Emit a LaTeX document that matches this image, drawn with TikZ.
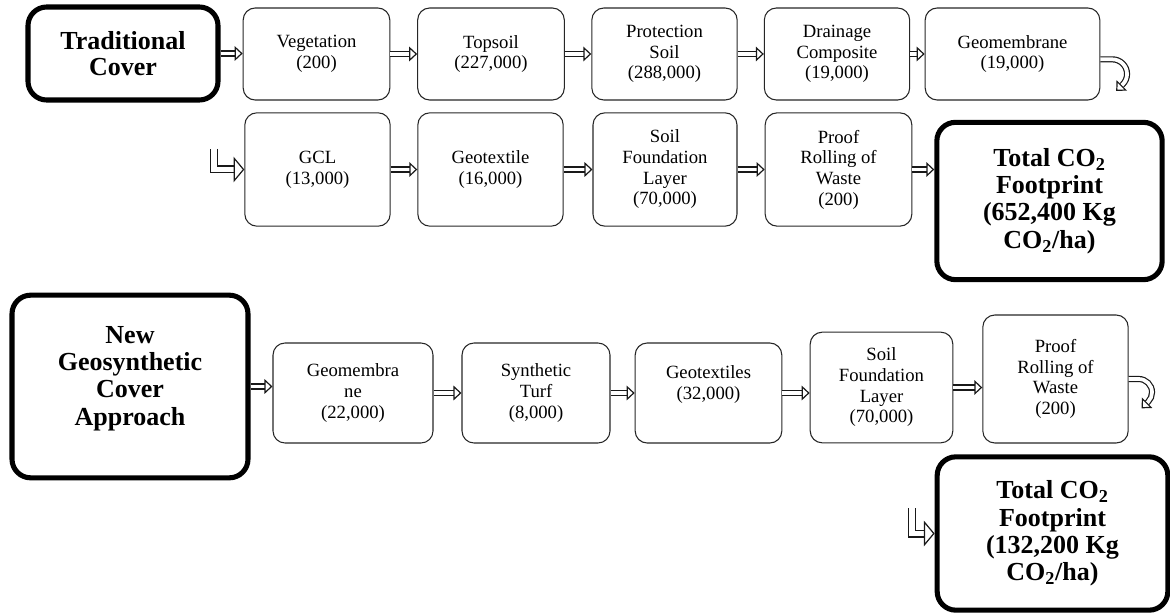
\documentclass[tikz,border=0pt]{standalone}
\usepackage{fontspec}
\setmainfont{Liberation Serif}
\usetikzlibrary{arrows.meta}

\tikzset{
  layer/.style={draw=black!85, line width=0.8pt, rounded corners=9pt, align=center,
    inner sep=1pt, font=\fontsize{14}{15.5}\selectfont},
  total/.style={draw, line width=3.8pt, rounded corners=14pt, align=center,
    inner sep=1pt, font=\fontsize{19.5}{20.5}\selectfont\bfseries},
  flow/.style={draw=black!90, double, double distance=2.8pt, line width=0.9pt,
    -{Triangle[open, length=6pt, width=11pt]}},
  elbow/.style={draw=black!90, double, double distance=4.2pt, line width=0.9pt,
    -{Triangle[open, length=8pt, width=19pt]}}
}

\begin{document}
\begin{tikzpicture}[x=0.75pt,y=0.75pt]
\useasboundingbox (0,0) rectangle (1170,-613);

% traditional cover
\node (trad)  at (123,-53.5)   [total, minimum width=142.5pt, minimum height=69.75pt, font=\fontsize{19.5}{19.5}\selectfont\bfseries] {Traditional\\Cover};
\node (veg)   at (316.5,-54)   [layer, minimum width=110pt, minimum height=69pt] {Vegetation\\(200)};
\node (top)   at (491,-54)     [layer, minimum width=110pt, minimum height=69pt] {Topsoil\\(227,000)};
\node (prot)  at (664.5,-54)   [layer, minimum width=109pt, minimum height=69pt] {Protection\\Soil\\(288,000)};
\node (drain) at (837,-54)     [layer, minimum width=109pt, minimum height=69pt] {Drainage\\Composite\\(19,000)};
\node (geo1)  at (1012.5,-54)  [layer, minimum width=131pt, minimum height=69pt] {Geomembrane\\(19,000)};
\node (gcl)   at (317.5,-169.5) [layer, minimum width=109pt, minimum height=85pt] {GCL\\(13,000)};
\node (gtx)   at (490.5,-169.5) [layer, minimum width=109pt, minimum height=85pt] {Geotextile\\(16,000)};
\node (sfl)   at (665,-169.5)   [layer, minimum width=108pt, minimum height=85pt] {Soil\\Foundation\\Layer\\(70,000)};
\node (prf)   at (838.5,-169.5) [layer, minimum width=110pt, minimum height=85pt] {Proof\\Rolling of\\Waste\\(200)};
\node (tot1)  at (1049.5,-201) [total, minimum width=169pt, minimum height=118pt] {Total CO\textsubscript{2}\\Footprint\\(652,400 Kg\\CO\textsubscript{2}/ha)};
\coordinate (lgcl) at (214,-149);

\draw[flow] (trad.east) -- (trad.east -| veg.west);
\draw[flow] (veg) -- (top);
\draw[flow] (top) -- (prot);
\draw[flow] (prot) -- (drain);
\draw[flow] (drain) -- (geo1);
\draw[flow] ([yshift=-4pt]geo1.east) -- ++(12,0) arc[start angle=90, end angle=-45, radius=11pt] -- ++(-135:7pt);
\draw[elbow] (lgcl) |- (gcl.west);
\draw[flow] (gcl) -- (gtx);
\draw[flow] (gtx) -- (sfl);
\draw[flow] (sfl) -- (prf);
\draw[flow] (prf.east) -- (prf.east -| tot1.west);

% geosynthetic cover
\node (new)   at (130,-386.5)   [total, minimum width=177pt, minimum height=137pt] {New\\Geosynthetic\\Cover\\Approach\\[-4pt]\mbox{}};
\node (geo2)  at (353,-393)     [layer, minimum width=120pt, minimum height=75pt] {Geomembra\\ne\\(22,000)};
\node (turf)  at (536,-393)     [layer, minimum width=111pt, minimum height=75pt] {Synthetic\\Turf\\(8,000)};
\node (gtx2)  at (708.5,-393)   [layer, minimum width=110pt, minimum height=75pt] {Geotextiles\\(32,000)\\\mbox{}};
\node (sfl2)  at (881.5,-387.5) [layer, minimum width=107pt, minimum height=83pt] {Soil\\Foundation\\Layer\\(70,000)};
\node (prf2)  at (1055.5,-379)  [layer, minimum width=109pt, minimum height=96pt] {Proof\\Rolling of\\Waste\\(200)};
\node (tot2)  at (1052.5,-533.5) [total, minimum width=173pt, minimum height=115pt] {Total CO\textsubscript{2}\\Footprint\\(132,200 Kg\\CO\textsubscript{2}/ha)};
\coordinate (ltot2) at (912,-508);

\draw[flow] (new.east) -- (new.east -| geo2.west);
\draw[flow] (geo2) -- (turf);
\draw[flow] (turf) -- (gtx2);
\draw[flow] (gtx2.east) -- (gtx2.east -| sfl2.west);
\draw[flow] (sfl2.east) -- (sfl2.east -| prf2.west);
\draw[flow] (prf2.east) -- ++(10,0) arc[start angle=90, end angle=-45, radius=10pt] -- ++(-135:7pt);
\draw[elbow] (ltot2) |- (tot2.west);
\end{tikzpicture}
\end{document}
